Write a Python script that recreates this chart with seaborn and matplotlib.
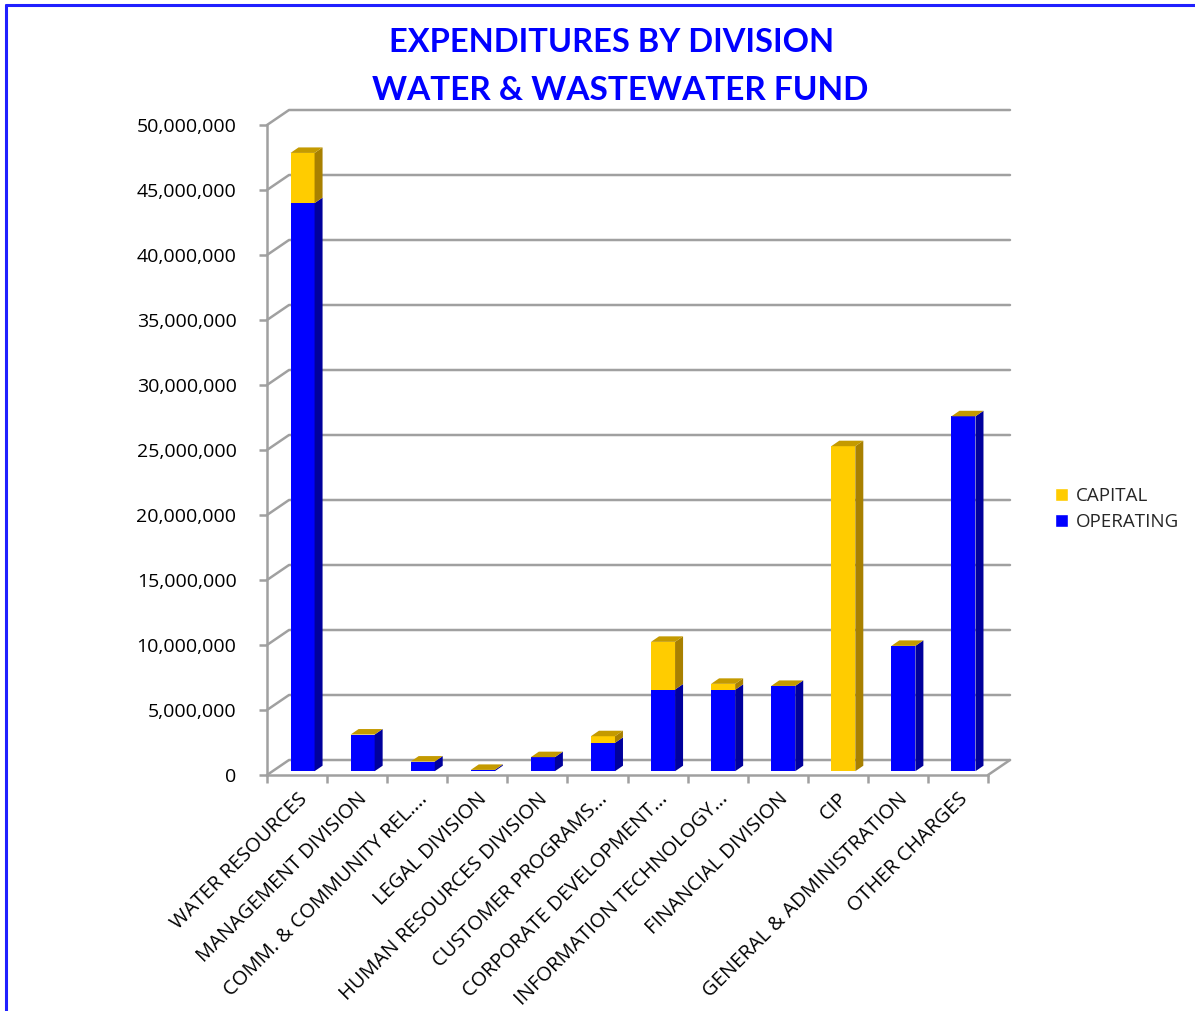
import matplotlib
matplotlib.use("Agg")
import matplotlib.pyplot as plt
import matplotlib.transforms as mtransforms
from matplotlib.patches import Polygon, Patch
from matplotlib.lines import Line2D
from matplotlib.ticker import FuncFormatter, FixedLocator
import pandas as pd
import seaborn as sns

# data
divisions = [
    "WATER RESOURCES",
    "MANAGEMENT DIVISION",
    "COMM. & COMMUNITY REL....",
    "LEGAL DIVISION",
    "HUMAN RESOURCES DIVISION",
    "CUSTOMER PROGRAMS...",
    "CORPORATE DEVELOPMENT...",
    "INFORMATION TECHNOLOGY...",
    "FINANCIAL DIVISION",
    "CIP",
    "GENERAL & ADMINISTRATION",
    "OTHER CHARGES",
]
operating = [43_700_000, 2_820_000, 740_000, 100_000, 1_080_000, 2_180_000,
             6_280_000, 6_260_000, 6_560_000, 0, 9_640_000, 27_300_000]
capital = [3_860_000, 0, 0, 0, 0, 510_000,
           3_670_000, 460_000, 0, 25_000_000, 0, 0]
y_ticks = list(range(0, 50_000_001, 5_000_000))

BLUE = "#0000FF"
BLUE_SIDE = "#00009C"
GOLD = "#FFCC00"
GOLD_SIDE = "#A88000"
TOP = "#C49A00"
GRID = "#A0A0A0"

W, H, DPI = 1195, 1011, 100
# 3d look, in pixels
WALL_DX, WALL_DY = 22, 15
FRONT_DX, FRONT_DY = 5.5, 3.8
BAR_DX, BAR_DY = 8, 5.5

df = pd.DataFrame({"division": divisions, "operating": operating, "capital": capital})
df["total"] = df["operating"] + df["capital"]

sns.set_style("white")
plt.rcParams["font.family"] = ["Open Sans", "DejaVu Sans"]

fig = plt.figure(figsize=(W / DPI, H / DPI), dpi=DPI)
ax_l, ax_r, ax_top, ax_bot = 267, 988, 125, 775
ax = fig.add_axes([ax_l / W, 1 - ax_bot / H, (ax_r - ax_l) / W, (ax_bot - ax_top) / H])

sns.barplot(data=df, x="division", y="total", color=GOLD, saturation=1, width=0.4,
            linewidth=0, ax=ax, zorder=3)
sns.barplot(data=df, x="division", y="operating", color=BLUE, saturation=1, width=0.4,
            linewidth=0, ax=ax, zorder=3)

n = len(divisions)
ax.set_xlim(-0.5, n - 0.5)
ax.set_ylim(0, 50_000_000)

# pixel -> data unit factors
px_x = n / (ax_r - ax_l)
px_y = 50_000_000 / (ax_bot - ax_top)

# back wall gridlines plus the left wall diagonals
for v in y_ticks:
    yb = v + WALL_DY * px_y
    ax.add_line(Line2D([-0.5, -0.5 + WALL_DX * px_x, n - 0.5 + WALL_DX * px_x], [v, yb, yb],
                       color=GRID, lw=1.8, clip_on=False, zorder=1))
# floor right edge
ax.add_line(Line2D([n - 0.5, n - 0.5 + WALL_DX * px_x], [0, WALL_DY * px_y],
                   color=GRID, lw=1.8, clip_on=False, zorder=1))

# move the bar fronts into the middle of the depth and add sides and tops
front = mtransforms.offset_copy(ax.transData, fig=fig, x=FRONT_DX, y=FRONT_DY, units="dots")
for p in ax.patches:
    p.set_transform(front)
    p.set_clip_on(False)

ddx, ddy = BAR_DX * px_x, BAR_DY * px_y
for i, row in df.iterrows():
    x0, x1 = i - 0.2, i + 0.2
    segs = [(0, row["operating"], BLUE_SIDE), (row["operating"], row["total"], GOLD_SIDE)]
    for a, b, c in segs:
        if b > a:
            ax.add_patch(Polygon([(x1, a), (x1 + ddx, a + ddy), (x1 + ddx, b + ddy), (x1, b)],
                                 closed=True, facecolor=c, edgecolor="none",
                                 transform=front, clip_on=False, zorder=3))
    t = row["total"]
    ax.add_patch(Polygon([(x0, t), (x1, t), (x1 + ddx, t + ddy), (x0 + ddx, t + ddy)],
                         closed=True, facecolor=TOP, edgecolor="none",
                         transform=front, clip_on=False, zorder=3))

# axes styling
for s in ["top", "right"]:
    ax.spines[s].set_visible(False)
for s in ["left", "bottom"]:
    ax.spines[s].set_color(GRID)
    ax.spines[s].set_linewidth(1.8)
ax.yaxis.set_major_locator(FixedLocator(y_ticks))
ax.yaxis.set_major_formatter(FuncFormatter(lambda v, _: f"{int(v):,}"))
ax.tick_params(axis="y", length=6, width=1.8, color=GRID, labelsize=14, pad=16,
               left=True, labelcolor="black")
ax.set_xticks(range(n))
ax.set_xticklabels(divisions, rotation=45, ha="right", rotation_mode="anchor", fontsize=14.5)
ax.tick_params(axis="x", length=0, pad=10, labelcolor="black")
ax.set_xticks([i - 0.5 for i in range(n + 1)], minor=True)
ax.tick_params(axis="x", which="minor", length=6, width=1.8, color=GRID, bottom=True)
ax.set_xlabel("")
ax.set_ylabel("")
ax.grid(False)

# title
fig.text(612 / W, 1 - 42 / H, "EXPENDITURES BY DIVISION", ha="center", va="center",
         color=BLUE, fontsize=23.5, fontweight="bold", family=["Lato", "DejaVu Sans"])
fig.text(620 / W, 1 - 90 / H, "WATER & WASTEWATER FUND", ha="center", va="center",
         color=BLUE, fontsize=24, fontweight="bold", family=["Lato", "DejaVu Sans"])

# legend
handles = [Patch(facecolor=GOLD, label="CAPITAL"), Patch(facecolor=BLUE, label="OPERATING")]
fig.legend(handles=handles, loc="center left", bbox_to_anchor=(1042 / W, 1 - 509 / H),
           frameon=False, fontsize=13.5, handlelength=0.7, handleheight=0.7,
           handletextpad=0.4, labelspacing=0.45, borderpad=0.2)

# blue frame on top and left edge
fig.add_artist(Line2D([6 / W, 6 / W], [0, 1 - 5 / H], color="#2020FF", lw=2.2))
fig.add_artist(Line2D([6 / W, 1], [1 - 5 / H, 1 - 5 / H], color="#2020FF", lw=2.2))

fig.savefig("out.png", dpi=DPI)
